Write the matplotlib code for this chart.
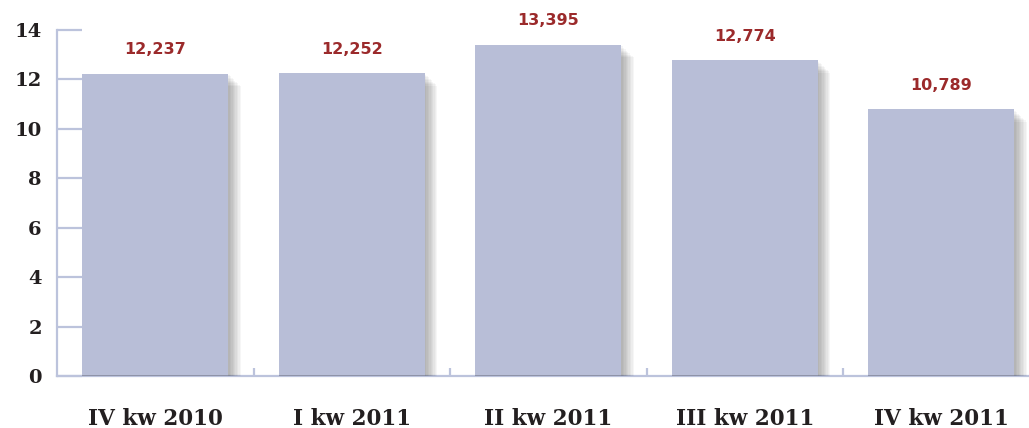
import matplotlib
matplotlib.use("Agg")
import matplotlib.pyplot as plt
import matplotlib.patheffects as pe
from matplotlib.ticker import FixedLocator

categories = ["IV kw 2010", "I kw 2011", "II kw 2011", "III kw 2011", "IV kw 2011"]
values = [12.237, 12.252, 13.395, 12.774, 10.789]
value_labels = ["12,237", "12,252", "13,395", "12,774", "10,789"]
y_ticks = [0, 2, 4, 6, 8, 10, 12, 14]

bar_color = "#B8BED7"
axis_color = "#BCC3DC"
text_color = "#231F20"
label_color = "#9B2A2B"

fig = plt.figure(figsize=(10.29, 4.28), dpi=100)
ax = fig.add_axes([57 / 1029, 1 - 376 / 428, 972 / 1029, 346 / 428])

x = list(range(len(categories)))

# soft drop shadow built from many faint stacked offsets
shadow = [pe.SimplePatchShadow(offset=(d, -d), shadow_rgbFace="#000000", alpha=0.035)
          for d in range(9, 0, -1)]
shadow.append(pe.Normal())
bars = ax.bar(x, values, width=0.745, color=bar_color, zorder=3)
for b in bars:
    b.set_path_effects(shadow)
# darker base edge of each bar
ax.bar(x, [0.06] * len(values), width=0.745, color="#8E93A8", zorder=4)

for xi, v, lab in zip(x, values, value_labels):
    ax.annotate(lab, (xi, v), xytext=(0, 12), textcoords="offset points",
                ha="center", va="bottom", color=label_color,
                fontsize=11.5, fontweight="heavy", family="DejaVu Sans")

ax.set_xlim(-0.5, -0.5 + 972 / 196.5)
ax.set_ylim(0, 14)

for s in ["top", "right"]:
    ax.spines[s].set_visible(False)
for s in ["left", "bottom"]:
    ax.spines[s].set_color(axis_color)
    ax.spines[s].set_linewidth(1.6)

ax.set_yticks(y_ticks)
ax.set_yticklabels([str(t) for t in y_ticks])
ax.tick_params(axis="y", direction="in", length=18, width=1.6, color=axis_color,
               pad=11, labelsize=14, labelcolor=text_color)

ax.set_xticks(x)
ax.set_xticklabels(categories)
ax.xaxis.set_minor_locator(FixedLocator([i + 0.5 for i in x[:-1]] + [x[-1] + 0.45]))
ax.tick_params(axis="x", which="major", length=0, pad=23, labelsize=15.5,
               labelcolor=text_color)
ax.tick_params(axis="x", which="minor", direction="in", length=6, width=1.6,
               color=axis_color)

for t in ax.get_xticklabels() + ax.get_yticklabels():
    t.set_fontfamily("DejaVu Serif")
    t.set_fontweight("bold")

fig.savefig("out.png", dpi=100)
